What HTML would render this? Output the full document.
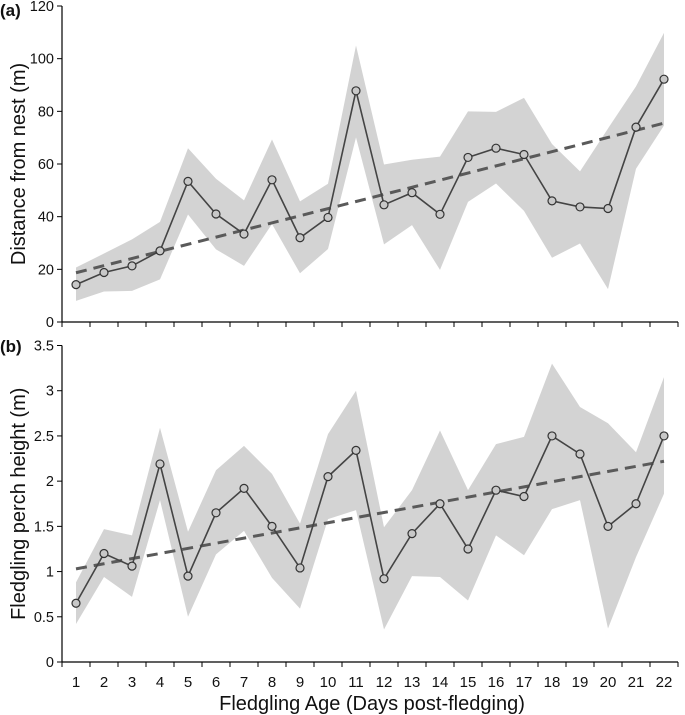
<!DOCTYPE html>
<html><head><meta charset="utf-8"><style>
html,body{margin:0;padding:0;background:#fff}
svg{display:block;font-family:"Liberation Sans",Arial,sans-serif}
</style></head><body>
<svg id="chart" width="685" height="715" viewBox="0 0 685 715" xmlns="http://www.w3.org/2000/svg"></svg>
<script>
const days=[1,2,3,4,5,6,7,8,9,10,11,12,13,14,15,16,17,18,19,20,21,22];
const distMean=[14.2,18.8,21.3,27,53.4,41,33.4,54,32,39.7,87.8,44.5,49.1,40.9,62.5,66,63.6,46,43.7,43.1,74,92.2];
const distUpper=[20.7,26,31.4,38,66,54.4,46.2,69.3,45.8,52.5,105,59.8,61.6,62.8,80,79.8,85.1,67.6,57.2,73.5,89.5,109.8];
const distLower=[8,11.6,11.8,16.2,40.8,27.6,21.3,37.2,18.5,27.7,70.1,29.5,36.8,19.8,45.6,52.6,42.2,24.4,29.8,12.5,58.2,74.6];
const distTrend=[18.7,75.5];
const distTicks=[0,20,40,60,80,100,120];
const perchMean=[0.65,1.2,1.06,2.19,0.95,1.65,1.92,1.5,1.04,2.05,2.34,0.92,1.42,1.75,1.25,1.9,1.83,2.5,2.3,1.5,1.75,2.5];
const perchUpper=[0.88,1.47,1.4,2.59,1.44,2.12,2.39,2.08,1.53,2.52,3.0,1.49,1.9,2.56,1.9,2.41,2.49,3.3,2.82,2.64,2.32,3.15];
const perchLower=[0.42,0.94,0.72,1.79,0.5,1.19,1.45,0.93,0.59,1.58,1.68,0.36,0.95,0.94,0.68,1.4,1.18,1.69,1.79,0.37,1.16,1.86];
const perchTrend=[1.03,2.22];
const perchTicks=[0,0.5,1,1.5,2,2.5,3,3.5];

const NS="http://www.w3.org/2000/svg";
const svg=document.getElementById('chart');
function mk(t,a,parent){const e=document.createElementNS(NS,t);for(const k in a)e.setAttribute(k,a[k]);(parent||svg).appendChild(e);return e;}
const X0=62,X1=678,step=28;
const xs=d=>76+(d-1)*step;

function panel(name,mean,upper,lower,trend,ticks,y0px,ytopPx,ymax,title,label,labelY,showX){
  const ys=v=>y0px-(v/ymax)*(y0px-ytopPx);
  const g=mk('g',{});
  
  
  let pts=days.map((d,i)=>xs(d)+','+ys(upper[i]));
  pts=pts.concat(days.slice().reverse().map((d,j)=>{const i=days.length-1-j;return xs(d)+','+ys(lower[i]);}));
  const band=mk('polygon',{points:pts.join(' '),fill:'#d3d3d3'},g);
  
  
  const tr=mk('line',{x1:xs(days[0]),y1:ys(trend[0]),x2:xs(days[days.length-1]),y2:ys(trend[1]),stroke:'#5a5a5a','stroke-width':3,'stroke-dasharray':'11,7'},g);
  
  
  const ln=mk('polyline',{points:days.map((d,i)=>xs(d)+','+ys(mean[i])).join(' '),fill:'none',stroke:'#444','stroke-width':1.6},g);
  
  
  days.forEach((d,i)=>{
    const c=mk('circle',{cx:xs(d),cy:ys(mean[i]),r:4,fill:'#c8c8c8',stroke:'#333','stroke-width':1.2},g);
    
    
  });
  const ya=mk('line',{x1:X0,y1:ytopPx,x2:X0,y2:y0px,stroke:'#000','stroke-width':1.2},g);
  
  
  const xa=mk('line',{x1:X0,y1:y0px,x2:X1,y2:y0px,stroke:'#000','stroke-width':1.2},g);
  
  
  ticks.forEach(t=>{
    mk('line',{x1:X0-5,y1:ys(t),x2:X0,y2:ys(t),stroke:'#000'},g);
    const tx=mk('text',{x:X0-8,y:ys(t)+5,'text-anchor':'end','font-size':14.5,fill:'#111'},g);
    tx.textContent=t;
    
    
  });
  for(let k=0;k<=22;k++){const x=X0+k*step;mk('line',{x1:x,y1:y0px,x2:x,y2:y0px+5,stroke:'#000'},g);}
  if(showX){
    days.forEach(d=>{
      const tx=mk('text',{x:xs(d),y:y0px+25,'text-anchor':'middle','font-size':15,fill:'#111'},g);
      tx.textContent=d;
      
      
    });
  }
  const yt=mk('text',{x:0,y:0,transform:`translate(25,${(y0px+ytopPx)/2}) rotate(-90)`,'text-anchor':'middle','font-size':20,fill:'#111'},g);
  yt.textContent=title;
  
  
  const pl=mk('text',{x:0,y:labelY,'font-size':17,'font-weight':'bold',fill:'#111'},g);
  pl.textContent=label;
  
  
}
panel('distance',distMean,distUpper,distLower,distTrend,distTicks,322,6,120,'Distance from nest (m)','(a)',16,false);
panel('perch-height',perchMean,perchUpper,perchLower,perchTrend,perchTicks,662,345.5,3.5,'Fledgling perch height (m)','(b)',352,true);
const xt=mk('text',{x:372,y:710,'text-anchor':'middle','font-size':20,fill:'#111'});
xt.textContent='Fledgling Age (Days post-fledging)';


</script>
</body></html>
